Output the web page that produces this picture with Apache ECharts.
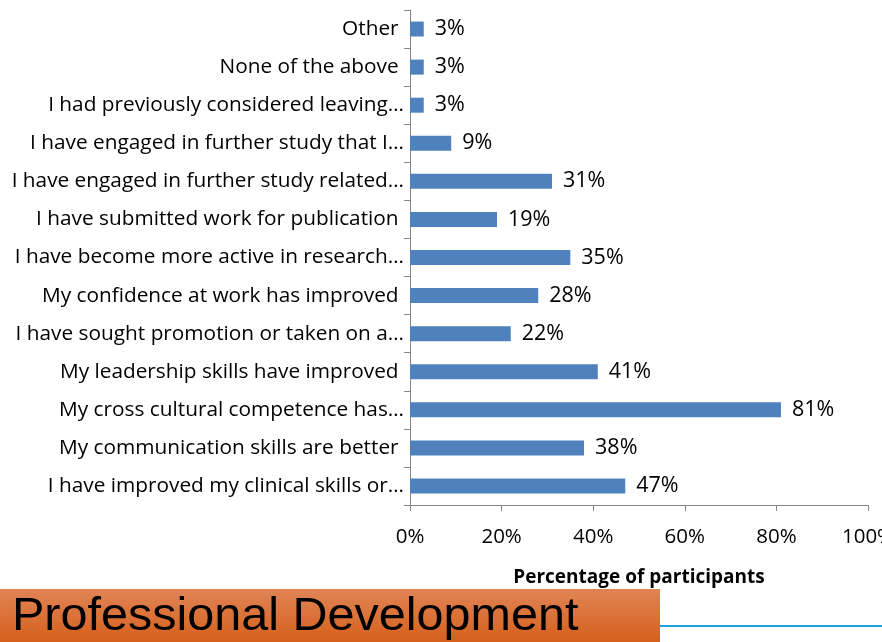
<!DOCTYPE html>
<html>
<head>
<meta charset="utf-8">
<script src="https://cdn.jsdelivr.net/npm/echarts@6/dist/echarts.min.js"></script>
<style>
  html, body { margin: 0; padding: 0; background: #fff; }
  #chart { width: 882px; height: 642px; }
</style>
</head>
<body>
<div id="chart"></div>
<script>
// categories listed bottom to top, as the category axis draws them
const categories = [
    'I have improved my clinical skills or…',
    'My communication skills are better ',
    'My cross cultural competence has…',
    'My leadership skills have improved ',
    'I have sought promotion or taken on a…',
    'My confidence at work has improved ',
    'I have become more active in research…',
    'I have submitted work for publication ',
    'I have engaged in further study related…',
    'I have engaged in further study that I…',
    'I had previously considered leaving…',
    'None of the above ',
    'Other '
]
const percentages = [47, 38, 81, 41, 22, 28, 35, 19, 31, 9, 3, 3, 3]
const xTicks = [0, 20, 40, 60, 80, 100]

const chart = echarts.init(document.getElementById('chart'))
const labelFont = '"Open Sans", sans-serif'

const option = {
    animation: false,
    grid: { left: 410, right: 14, top: 10, bottom: 137, outerBoundsMode: 'none' },
    xAxis: {
        type: 'value',
        min: xTicks[0],
        max: xTicks[xTicks.length - 1],
        interval: 20,
        name: 'Percentage of participants',
        nameLocation: 'middle',
        nameGap: 63,
        nameTextStyle: { fontFamily: labelFont, fontWeight: 'bold', fontSize: 19, color: '#000' },
        axisLine: { show: true, lineStyle: { color: '#868686' } },
        axisTick: { show: true, length: 6, lineStyle: { color: '#868686' } },
        splitLine: { show: false },
        axisLabel: { formatter: '{value}%', margin: 22, fontFamily: labelFont, fontSize: 20.5, color: '#000' }
    },
    yAxis: {
        type: 'category',
        data: categories,
        axisLine: { lineStyle: { color: '#868686' } },
        axisTick: { show: true, length: 6, lineStyle: { color: '#868686' } },
        axisLabel: { margin: 6, fontFamily: labelFont, fontSize: 20.8, color: '#000' }
    },
    series: [{
        type: 'bar',
        data: percentages,
        barWidth: 15,
        itemStyle: { color: '#4f81bd' },
        label: {
            show: true,
            position: 'right',
            distance: 11,
            formatter: '{c}%',
            fontFamily: labelFont,
            fontSize: 21.5,
            color: '#000'
        }
    }],
    graphic: [
        {
            type: 'rect',
            shape: { x: 0, y: 589, width: 660, height: 53 },
            style: {
                fill: new echarts.graphic.LinearGradient(0, 0, 0, 1, [
                    { offset: 0, color: '#e08455' },
                    { offset: 1, color: '#d6601c' }
                ])
            }
        },
        {
            type: 'text',
            x: 12,
            y: 617,
            scaleX: 1.055,
            style: {
                text: 'Professional Development',
                font: '46px "Liberation Sans", Arial, sans-serif',
                verticalAlign: 'middle',
                fill: '#000'
            }
        },
        {
            type: 'line',
            shape: { x1: 660, y1: 626, x2: 882, y2: 626 },
            style: { stroke: '#1aa3e0', lineWidth: 2 }
        }
    ]
}
chart.setOption(option)
</script>
</body>
</html>
